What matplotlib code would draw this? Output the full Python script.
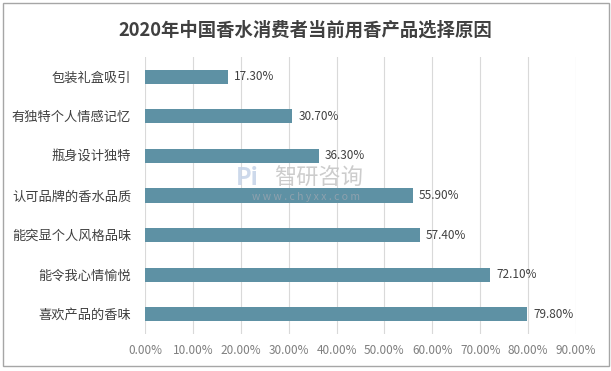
import matplotlib.pyplot as plt
from matplotlib.patches import Rectangle

plt.rcParams['font.family'] = ['Noto Sans CJK SC', 'DejaVu Sans']

# dados
categorias = ['喜欢产品的香味', '能令我心情愉悦', '能突显个人风格品味', '认可品牌的香水品质',
              '瓶身设计独特', '有独特个人情感记忆', '包装礼盒吸引']
valores = [79.8, 72.1, 57.4, 55.9, 36.3, 30.7, 17.3]
ticks_x = [0, 10, 20, 30, 40, 50, 60, 70, 80, 90]

fig = plt.figure(figsize=(6.11, 3.71), dpi=100)
ax = fig.add_axes([145 / 611, 1 - 334 / 371, 431 / 611, 277 / 371])

ax.barh(range(len(categorias)), valores, height=0.36, color='#5e91a4', zorder=3)
for i, v in enumerate(valores):
    ax.text(v + 1.3, i, f'{v:.2f}%', va='center', ha='left', fontsize=8.5, color='#404040')

ax.set_xlim(0, 90)
ax.set_ylim(-0.5, len(categorias) - 0.5)
ax.set_xticks(ticks_x)
ax.set_xticklabels([f'{t:.2f}%' for t in ticks_x], fontsize=8.5, color='#7f7f7f')
ax.set_yticks(range(len(categorias)))
ax.set_yticklabels(categorias, fontsize=9.5, color='#404040')
ax.tick_params(length=0, axis='both')
ax.tick_params(axis='y', pad=10)
ax.tick_params(axis='x', pad=7)
ax.grid(axis='x', color='#d9d9d9', linewidth=0.8, zorder=0)
for s in ax.spines.values():
    s.set_visible(False)

fig.text(305 / 611, 1 - 30 / 371, '2020年中国香水消费者当前用香产品选择原因',
         ha='center', va='center', fontsize=13.2, fontweight='bold', color='#404040')

# marca d'agua
fig.text(319 / 611, 1 - 178 / 371, '智研咨询', ha='center', va='center', fontsize=16,
         color='#c4c4c4', alpha=0.85, zorder=10)
fig.text(306 / 611, 1 - 197 / 371, 'w w w . c h y x x . c o m', ha='center', va='center',
         fontsize=7.5, color='#9aa5b0', alpha=0.8, zorder=10)
fig.text(247 / 611, 1 - 178 / 371, 'Pi', ha='center', va='center', fontsize=17,
         fontweight='bold', color='#c5d3e8', alpha=0.85, zorder=10)

# borda
fig.patches.append(Rectangle((3 / 611, 5 / 371), 606 / 611, 363 / 371, transform=fig.transFigure,
                             fill=False, edgecolor='#a6a6a6', linewidth=1))

fig.savefig('out.png', dpi=100)
